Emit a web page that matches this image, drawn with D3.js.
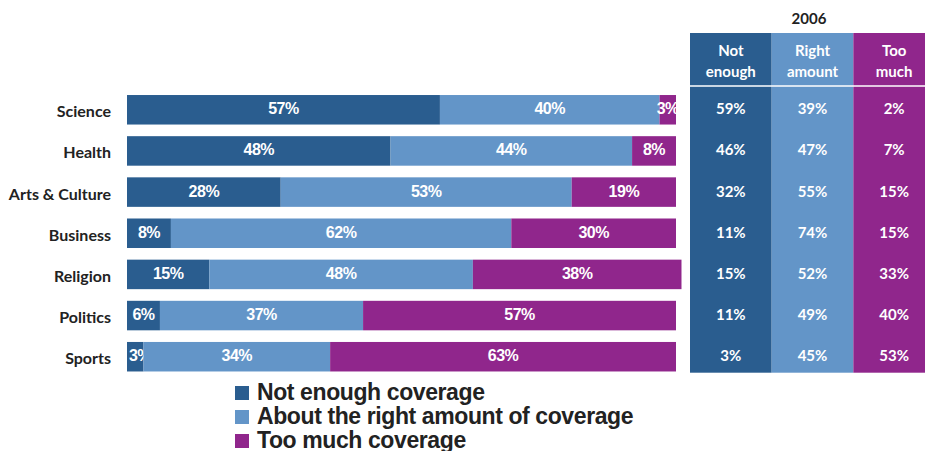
<!DOCTYPE html>
<html>
<head>
<meta charset="utf-8">
<script src="https://cdn.jsdelivr.net/npm/d3@7"></script>
<style>
  body { margin: 0; background: #fff; }
  svg { display: block; }
</style>
</head>
<body>
<svg id="chart"></svg>
<script>
// data
const categories = ['Science', 'Health', 'Arts & Culture', 'Business', 'Religion', 'Politics', 'Sports'];
const notEnough = [57, 48, 28, 8, 15, 6, 3];
const rightAmount = [40, 44, 53, 62, 48, 37, 34];
const tooMuch = [3, 8, 19, 30, 38, 57, 63];

// 2006 comparison table
const tableYear = '2006';
const tableHeaders = [['Not', 'enough'], ['Right', 'amount'], ['Too', 'much']];
const notEnough2006 = [59, 46, 32, 11, 15, 11, 3];
const rightAmount2006 = [39, 47, 55, 74, 52, 49, 45];
const tooMuch2006 = [2, 7, 15, 15, 33, 40, 53];

const legendLabels = ['Not enough coverage', 'About the right amount of coverage', 'Too much coverage'];
const colors = ['#2a5d8f', '#6395c8', '#90268c'];

const width = 925, height = 451;

const svg = d3.select('#chart')
  .attr('width', width)
  .attr('height', height);

const x = d3.scaleLinear().domain([0, 100]).range([127, 676]);
const y = d3.scaleBand()
  .domain(categories)
  .range([89.2, 377.3])
  .paddingInner(0.283)
  .paddingOuter(0.1415);

// stack the three answers per topic
const rows = categories.map((c, i) => ({ cat: c, ne: notEnough[i], ra: rightAmount[i], tm: tooMuch[i] }));
const stack = d3.stack().keys(['ne', 'ra', 'tm'])(rows);

const layers = svg.selectAll('g.layer')
  .data(stack)
  .join('g')
  .attr('class', 'layer')
  .attr('fill', (d, i) => colors[i]);

layers.selectAll('rect')
  .data(d => d)
  .join('rect')
  .attr('x', d => x(d[0]))
  .attr('y', d => y(d.data.cat))
  .attr('width', d => x(d[1]) - x(d[0]))
  .attr('height', y.bandwidth());

// labels in the middle of each piece, kept inside the plot on the left
layers.selectAll('text')
  .data(d => d.map(v => ({ v: v, key: d.key })))
  .join('text')
  .attr('x', d => Math.max((x(d.v[0]) + x(d.v[1])) / 2, x(0) + 13))
  .attr('y', d => y(d.v.data.cat) + y.bandwidth() / 2 - 1)
  .attr('text-anchor', 'middle')
  .attr('dominant-baseline', 'central')
  .style('font-family', '"Liberation Sans", Arial, sans-serif')
  .style('font-weight', 'bold')
  .style('font-size', '16px')
  .style('letter-spacing', '-0.5px')
  .style('fill', '#fff')
  .text(d => d.v.data[d.key] + '%');

// category labels
svg.append('g')
  .selectAll('text')
  .data(categories)
  .join('text')
  .attr('x', 111)
  .attr('y', d => y(d) + y.bandwidth() / 2 + 1)
  .attr('text-anchor', 'end')
  .attr('dominant-baseline', 'central')
  .style('font-family', 'Lato, "Open Sans", sans-serif')
  .style('font-weight', 'bold')
  .style('font-size', '16px')
  .style('fill', '#222')
  .text(d => d);

// table on the right
const tcols = d3.scaleBand().domain([0, 1, 2]).range([690, 935]);
const tableVals = [notEnough2006, rightAmount2006, tooMuch2006];
const tableTop = 33, tableBottom = 372.7, headerLine = 86;
const tFont = 'Lato, "Open Sans", sans-serif';

svg.append('text')
  .attr('x', 809)
  .attr('y', 17.5)
  .attr('text-anchor', 'middle')
  .attr('dominant-baseline', 'central')
  .style('font-family', tFont)
  .style('font-weight', 'bold')
  .style('font-size', '15px')
  .style('fill', '#222')
  .text(tableYear);

const tg = svg.append('g');
tg.selectAll('rect')
  .data([0, 1, 2])
  .join('rect')
  .attr('x', d => tcols(d))
  .attr('y', tableTop)
  .attr('width', tcols.bandwidth())
  .attr('height', tableBottom - tableTop)
  .attr('fill', d => colors[d]);

tg.append('line')
  .attr('x1', tcols.range()[0])
  .attr('x2', tcols.range()[1])
  .attr('y1', headerLine)
  .attr('y2', headerLine)
  .attr('stroke', '#fff')
  .attr('stroke-width', 1.5);

// header lines of text
tableHeaders.forEach((h, i) => {
  h.forEach((line, j) => {
    tg.append('text')
      .attr('x', tcols(i) + tcols.bandwidth() / 2)
      .attr('y', 50 + j * 20.5)
      .attr('text-anchor', 'middle')
      .attr('dominant-baseline', 'central')
      .style('font-family', tFont)
      .style('font-weight', 'bold')
      .style('font-size', '15px')
      .style('fill', '#fff')
      .text(line);
  });
});

tableVals.forEach((vals, i) => {
  tg.append('g')
    .selectAll('text')
    .data(vals)
    .join('text')
    .attr('x', tcols(i) + tcols.bandwidth() / 2)
    .attr('y', (d, k) => y(categories[k]) + y.bandwidth() / 2 - 1.5)
    .attr('text-anchor', 'middle')
    .attr('dominant-baseline', 'central')
    .style('font-family', tFont)
    .style('font-weight', 'bold')
    .style('font-size', '15px')
    .style('fill', '#fff')
    .text(d => d + '%');
});

// legend
const legend = svg.append('g')
  .selectAll('g')
  .data(legendLabels)
  .join('g')
  .attr('transform', (d, i) => `translate(235,${386 + i * 24})`);

legend.append('rect')
  .attr('width', 14)
  .attr('height', 14)
  .attr('fill', (d, i) => colors[i]);

legend.append('text')
  .attr('x', 22)
  .attr('y', 14)
  .style('font-family', '"Liberation Sans", Arial, sans-serif')
  .style('font-weight', 'bold')
  .style('font-size', '23px')
  .style('letter-spacing', '-0.4px')
  .style('fill', '#222')
  .text(d => d);
</script>
</body>
</html>
